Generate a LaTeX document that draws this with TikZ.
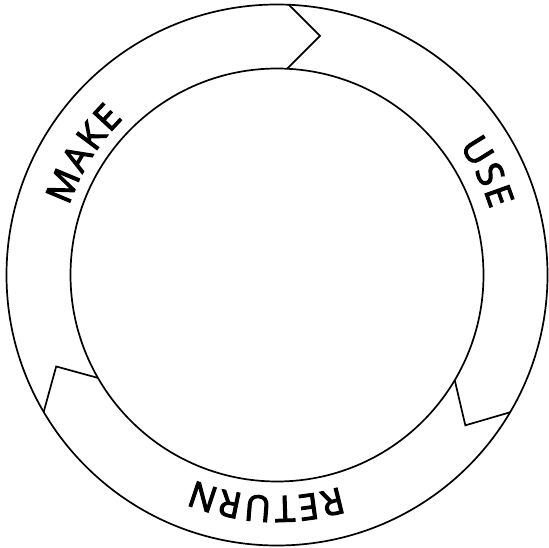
\documentclass[tikz,border=0pt]{standalone}
\usepackage{fontspec}
\newfontfamily\lblfont{Open Sans}[FakeBold=3]
\begin{document}
\begin{tikzpicture}[x=1pt,y=1pt,
  ring/.style={draw=black, line width=1.7pt},
  chev/.style={draw=black, line width=1.7pt, line join=miter},
  lbl/.style={font=\lblfont\fontsize{36}{36}\selectfont, inner sep=0pt, text=black}]
\useasboundingbox (0,0) rectangle (549,547);
\begin{scope}[shift={(277,272)}]
  \draw[ring] (0,0) circle[radius=270.5];
  \draw[ring] (0,0) circle[radius=206.5];
  % chevrons (arrow heads pointing clockwise)
  \coordinate (t1) at (87.5:270.5);  \coordinate (t2) at (79.8:243);  \coordinate (t3) at (87.2:206.5);
  \coordinate (r1) at (-30.5:270.5); \coordinate (r2) at (-38.6:241); \coordinate (r3) at (-30.6:206.5);
  \coordinate (l1) at (210.4:270.5); \coordinate (l2) at (202.5:239); \coordinate (l3) at (209.9:206.5);
  \draw[chev] (t1) -- (t2) -- (t3);
  \draw[chev] (r1) -- (r2) -- (r3);
  \draw[chev] (l1) -- (l2) -- (l3);
  % labels, letters set clockwise with their tops outward
  \foreach \ch/\a [count=\i] in {M/157.35,A/149.6,K/143.2,E/137.15}
    \node[lbl, rotate=\a-90] (make\i) at (\a:232) {\ch};
  \foreach \ch/\a [count=\i] in {U/31.85,S/25.33,E/19.65}
    \node[lbl, rotate=\a-90] (use\i) at (\a:236) {\ch};
  \foreach \ch/\a [count=\i] in {R/283.8,E/277.75,T/271.95,U/265.3,R/258.4,N/251.5}
    \node[lbl, rotate=\a-90] (ret\i) at (\a:234) {\ch};
\end{scope}
\end{tikzpicture}
\end{document}
